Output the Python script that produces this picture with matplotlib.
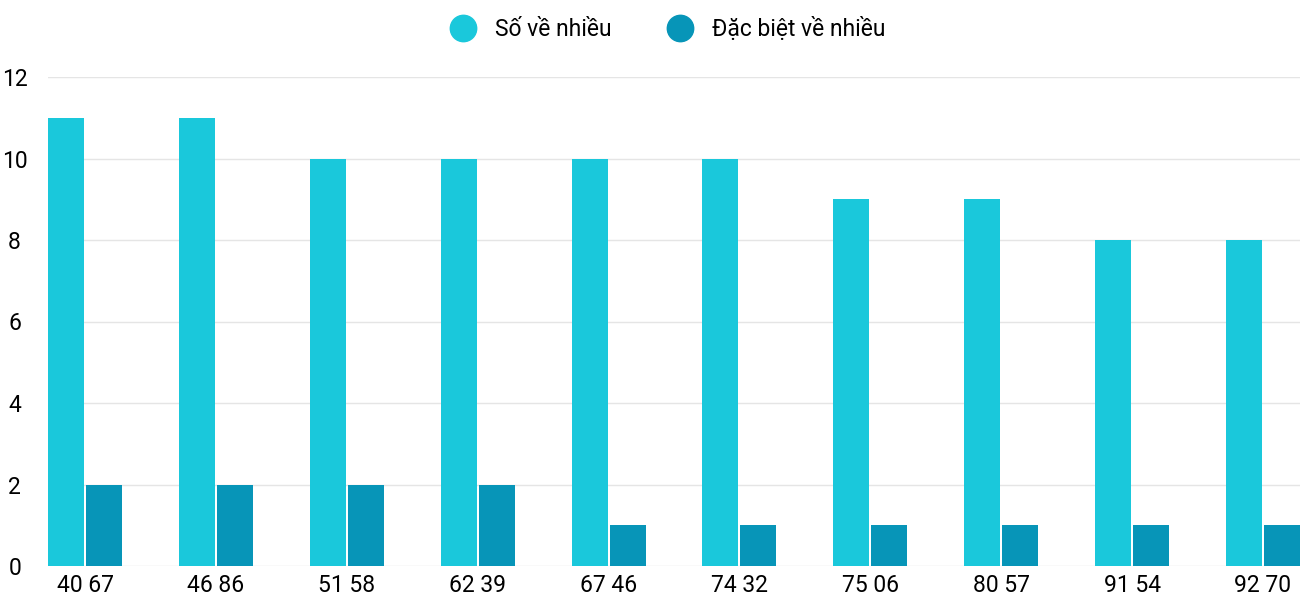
import numpy as np
import matplotlib
matplotlib.use("Agg")
import matplotlib.pyplot as plt
from matplotlib.lines import Line2D

plt.rcParams['font.family'] = ['Roboto', 'DejaVu Sans']

labels = ["40 67", "46 86", "51 58", "62 39", "67 46", "74 32", "75 06", "80 57", "91 54", "92 70"]
so_ve = [11, 11, 10, 10, 10, 10, 9, 9, 8, 8]
dac_biet = [2, 2, 2, 2, 1, 1, 1, 1, 1, 1]

c1 = "#1ac8db"
c2 = "#0795b8"

fig = plt.figure(figsize=(13, 6), dpi=100)
ax = fig.add_axes([48 / 1300, 34 / 600, 1252 / 1300, 489 / 600])
x = np.arange(len(labels))
w = 0.275
ax.bar(x - w / 2 - 0.008, so_ve, w, color=c1, zorder=3)
ax.bar(x + w / 2 + 0.008, dac_biet, w, color=c2, zorder=3)

ax.set_xlim(-0.283, len(labels) - 1 + 0.283)
ax.set_ylim(0, 12)
ax.set_yticks(range(0, 13, 2))
ax.set_xticks(x)
ax.set_xticklabels(labels, fontsize=16.5)
ax.tick_params(axis='y', labelsize=16.5, length=0, pad=24)
ax.tick_params(axis='x', length=0, pad=6)
for lab in ax.get_yticklabels():
    lab.set_horizontalalignment('center')
ax.grid(axis='y', color="#e5e5e5", linewidth=1, zorder=0)
for s in ax.spines.values():
    s.set_visible(False)

handles = [Line2D([], [], marker='o', linestyle='', markersize=19, color=c1),
           Line2D([], [], marker='o', linestyle='', markersize=19, color=c2)]
fig.legend(handles, ["Số về nhiều", "Đặc biệt về nhiều"], loc='center',
           bbox_to_anchor=(0.51, 0.951), ncol=2, frameon=False, fontsize=16.5,
           handletextpad=0.4, columnspacing=2.0)

fig.savefig("out.png", dpi=100)
